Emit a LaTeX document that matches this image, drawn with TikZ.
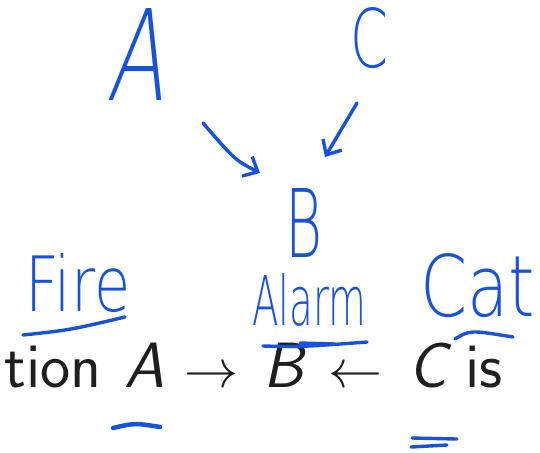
\documentclass[tikz,border=0pt]{standalone}
\usepackage{fontspec}
\usepackage{graphicx}
\usetikzlibrary{arrows.meta}
\newfontfamily\hw{DejaVu Sans}[UprightFont={* ExtraLight}]
\definecolor{ink}{RGB}{22,82,222}
\tikzset{
  hand/.style={inner sep=0pt, anchor=base west, text=ink},
  pen/.style={draw=ink, line width=3.4pt, line cap=round, line join=round},
  printed/.style={inner sep=0pt, anchor=base, text=black!88},
}
\begin{document}
\begin{tikzpicture}[x=1pt,y=-1pt]
\useasboundingbox[fill=white] (0,0) rectangle (540,452);
% handwritten graph
\begin{scope}[shift={(106,100)}, xslant=0.15]
\node[hand, transform shape] (hA) at (0,0) {\resizebox{58pt}{92pt}{\hw A}};
\end{scope}
\node[hand] (hC) at (350,68) {\resizebox{38pt}{60pt}{\hw C}};
\node[hand] (hB) at (285,257) {\resizebox{37pt}{69pt}{\hw B}};
\coordinate (a1) at (203,123);
\coordinate (a2) at (260,173);
\coordinate (c1) at (357,103);
\coordinate (c2) at (325,157);
\draw[pen, -{Straight Barb[length=12pt,width=22pt,line width=3.4pt]}] (a1) .. controls (235,160) .. (a2);
\draw[pen, -{Straight Barb[length=12pt,width=22pt,line width=3.4pt]}] (c1) -- (c2);
% handwritten labels
\node[hand] (fire) at (25,311) {\resizebox{105pt}{58pt}{\hw Fire}};
\node[hand] (alarm) at (252,325) {\resizebox{114pt}{52pt}{\hw Alarm}};
\node[hand] (cat) at (420,316) {\resizebox{115pt}{63pt}{\hw Cat}};
% printed line
\node[printed, anchor=base east] (t1) at (102,387) {\fontsize{64}{70}\selectfont\sffamily ation};
\node[printed] (pA) at (144,387) {\fontsize{64}{70}\selectfont\sffamily\itshape A};
\node[printed] (r1) at (211,387) {\resizebox{54pt}{!}{$\rightarrow$}};
\node[printed] (pB) at (284,387) {\fontsize{64}{70}\selectfont\sffamily\itshape B};
\node[printed] (r2) at (355,387) {\resizebox{54pt}{!}{$\leftarrow$}};
\node[printed] (pC) at (428,387) {\fontsize{64}{70}\selectfont\sffamily\itshape C};
\node[printed] (is) at (484,387) {\fontsize{64}{70}\selectfont\sffamily is};
% pen marks
\coordinate (u1) at (23,335); \coordinate (u2) at (125,317);
\draw[pen] (u1) .. controls (70,330) .. (u2);
\coordinate (b1) at (263,346); \coordinate (b2) at (367,342);
\draw[pen] (b1) .. controls (300,347) .. (b2);
\coordinate (b3) at (300,343); \coordinate (b4) at (335,344);
\draw[pen] (b3) -- (b4);
\coordinate (o1) at (455,339); \coordinate (o2) at (513,337);
\draw[pen] (o1) .. controls (470,330) .. (o2);
\coordinate (ua1) at (113,428); \coordinate (ua2) at (160,427);
\draw[pen, line width=4.5pt] (ua1) .. controls (135,423) .. (ua2);
\coordinate (uc1) at (412,438); \coordinate (uc2) at (457,439);
\draw[pen] (uc1) -- (uc2);
\coordinate (uc3) at (411,447); \coordinate (uc4) at (447,445);
\draw[pen] (uc3) -- (uc4);
\end{tikzpicture}
\end{document}
